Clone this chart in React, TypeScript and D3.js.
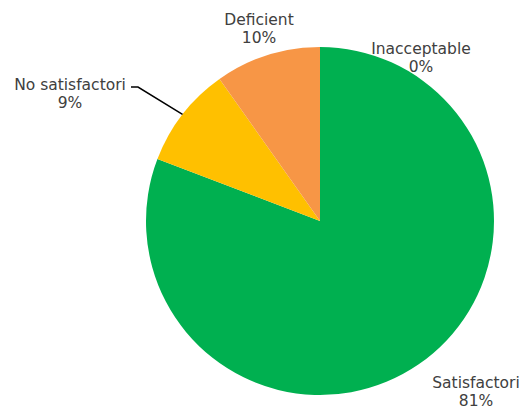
import * as d3 from 'd3'

// slice data, in Excel order (clockwise from 12 o'clock)
const categories = ['Inacceptable', 'Satisfactori', 'No satisfactori', 'Deficient']
const values = [0, 80.8, 9.4, 9.8]
const colors = ['#C0504D', '#00B050', '#FFC000', '#F79646']

// label anchor offsets (text centre, first baseline), relative to pie centre
const labelLayout: Record<string, { dx: number; dy: number }> = {
  Inacceptable: { dx: 101, dy: -167 },
  Satisfactori: { dx: 156, dy: 167 },
  'No satisfactori': { dx: -250, dy: -131 },
  Deficient: { dx: -61, dy: -196 },
}

const W = 521
const H = 410
const cx = 320
const cy = 221
const R = 174

export default function App() {
  const pie = d3
    .pie<number>()
    .sort(null)
    .value(d => d)
  const arcs = pie(values)
  const arc = d3.arc<d3.PieArcDatum<number>>().innerRadius(0).outerRadius(R)
  const total = d3.sum(values)

  // leader line for "No satisfactori"
  const ns = arcs[2]
  const mid = (ns.startAngle + ns.endAngle) / 2
  const edge: [number, number] = [Math.sin(mid) * R, -Math.cos(mid) * R]
  const nsLab = labelLayout['No satisfactori']
  const leader = d3.line()([
    edge,
    [nsLab.dx + 68, nsLab.dy - 3],
    [nsLab.dx + 61, nsLab.dy - 3],
  ])

  return (
    <svg
      width={W}
      height={H}
      style={{ position: 'absolute', left: 0, top: 0, background: '#fff' }}
      fontFamily="'DejaVu Sans', Verdana, sans-serif"
    >
      <g transform={`translate(${cx},${cy})`}>
        {arcs.map((a, i) =>
          a.value > 0 ? <path key={i} d={arc(a) || ''} fill={colors[i]} /> : null
        )}
        <path d={leader || ''} fill="none" stroke="#000" strokeWidth={1.5} />
        {arcs.map((a, i) => {
          const lab = labelLayout[categories[i]]
          return (
            <text
              key={'t' + i}
              x={lab.dx}
              y={lab.dy}
              textAnchor="middle"
              fontSize={15.5}
              fill="#404040"
            >
              <tspan x={lab.dx}>{categories[i]}</tspan>
              <tspan x={lab.dx} dy={17.5}>
                {Math.round((a.value / total) * 100)}%
              </tspan>
            </text>
          )
        })}
      </g>
    </svg>
  )
}
